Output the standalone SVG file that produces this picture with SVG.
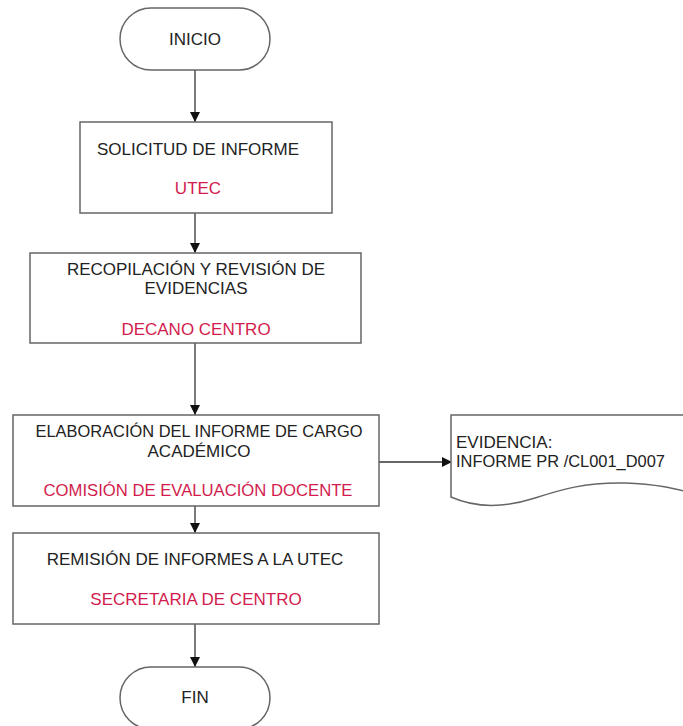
<svg xmlns="http://www.w3.org/2000/svg" width="683" height="726" viewBox="0 0 683 726">
<style>
.shape{fill:#ffffff;stroke:#666666;stroke-width:1.5}
.t{font-family:"Liberation Sans",Arial,sans-serif;font-size:17px;fill:#222222;text-anchor:middle}
.r{fill:#d21c4e}
.l{text-anchor:start}
.c{stroke:#333333;stroke-width:1.3;fill:none}
</style>
<defs>
<marker id="ah" viewBox="0 0 10 10" refX="10" refY="5" markerWidth="10" markerHeight="10" markerUnits="userSpaceOnUse" orient="auto">
<path d="M0,0 L10,5 L0,10 Z" fill="#111111"/>
</marker>
</defs>
<rect width="683" height="726" fill="#ffffff"/>
<g id="connectors">
<line class="c" x1="195" y1="70" x2="195" y2="122" marker-end="url(#ah)"/>
<line class="c" x1="195" y1="213" x2="195" y2="253" marker-end="url(#ah)"/>
<line class="c" x1="195" y1="343" x2="195" y2="415" marker-end="url(#ah)"/>
<line class="c" x1="195" y1="506" x2="195" y2="533" marker-end="url(#ah)"/>
<line class="c" x1="195" y1="624" x2="195" y2="667" marker-end="url(#ah)"/>
<line class="c" x1="379" y1="462" x2="452" y2="462" marker-end="url(#ah)"/>
</g>
<g id="inicio">
<rect class="shape" x="120" y="8" width="150" height="62" rx="31" ry="31"/>
<text class="t" x="195" y="45">INICIO</text>
</g>
<g id="solicitud">
<rect class="shape" x="80" y="122" width="252" height="91"/>
<text class="t" x="198" y="155">SOLICITUD DE INFORME</text>
<text class="t r" x="198" y="194">UTEC</text>
</g>
<g id="recopilacion">
<rect class="shape" x="30" y="253" width="331" height="90"/>
<text class="t" x="196" y="275">RECOPILACIÓN Y REVISIÓN DE</text>
<text class="t" x="196" y="294">EVIDENCIAS</text>
<text class="t r" x="196" y="335">DECANO CENTRO</text>
</g>
<g id="elaboracion">
<rect class="shape" x="13" y="415" width="366" height="91"/>
<text class="t" x="199" y="437" textLength="327" lengthAdjust="spacingAndGlyphs">ELABORACIÓN DEL INFORME DE CARGO</text>
<text class="t" x="199" y="457">ACADÉMICO</text>
<text class="t r" x="198" y="496" textLength="309" lengthAdjust="spacingAndGlyphs">COMISIÓN DE EVALUACIÓN DOCENTE</text>
</g>
<g id="evidencia">
<path class="shape" d="M451,415 L700,415 L700,495 C680,490 660,484 625,483 C585,482 560,490 535,498 C510,506 480,510 451,497 Z"/>
<text class="t l" x="456" y="448">EVIDENCIA:</text>
<text class="t l" x="456" y="467" textLength="209" lengthAdjust="spacingAndGlyphs">INFORME PR /CL001_D007</text>
</g>
<g id="remision">
<rect class="shape" x="13" y="533" width="366" height="91"/>
<text class="t" x="195" y="565">REMISIÓN DE INFORMES A LA UTEC</text>
<text class="t r" x="196" y="605">SECRETARIA DE CENTRO</text>
</g>
<g id="fin">
<rect class="shape" x="120" y="667" width="150" height="62" rx="31" ry="31"/>
<text class="t" x="195" y="703">FIN</text>
</g>
</svg>
